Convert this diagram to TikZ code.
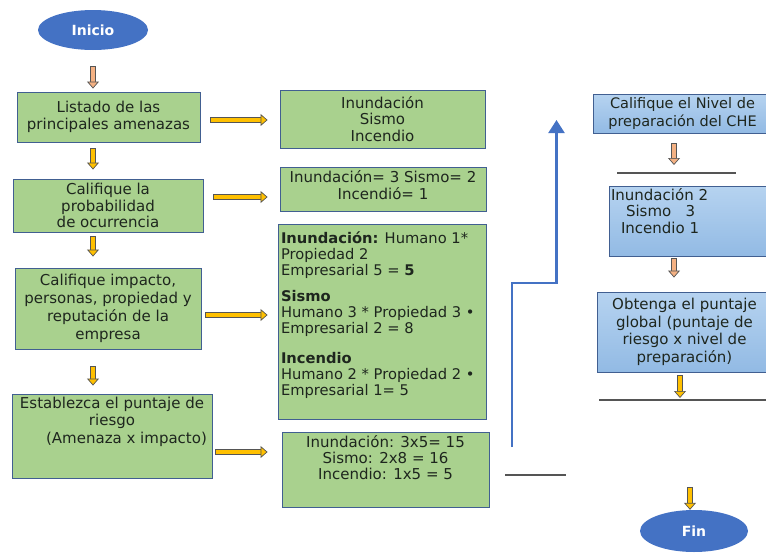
\documentclass[tikz,border=0pt]{standalone}
\usepackage{fontspec}
\setmainfont{DejaVu Sans}
\usetikzlibrary{arrows.meta,calc,shapes.geometric}
\definecolor{gc}{RGB}{169,209,142}
\definecolor{btop}{RGB}{182,211,240}
\definecolor{bbot}{RGB}{146,186,228}
\definecolor{ec}{RGB}{68,114,196}
\definecolor{lc}{RGB}{65,95,145}
\definecolor{ac}{RGB}{255,192,0}
\definecolor{sc}{RGB}{244,177,131}
\definecolor{oc}{RGB}{85,85,85}
\definecolor{tc}{RGB}{30,38,30}
\newcommand{\topbox}[3]{\parbox[c][#1][t]{#2}{#3}}
\tikzset{g/.style={draw=lc,fill=gc,line width=.9pt,inner sep=0pt,align=center,text=tc,font=\fontsize{15}{17.5}\selectfont},
 bl/.style={draw=lc,line width=.9pt,top color=btop,bottom color=bbot,inner sep=0pt,align=center,text=tc,font=\fontsize{15}{17.5}\selectfont},
 oval/.style={ellipse,fill=ec,inner sep=0pt,text=white,font=\fontsize{14}{16}\selectfont\bfseries},
 blk/.style={line width=4pt,draw=#1,shorten <=.7pt,-{Triangle[length=7pt,width=12pt,color=oc,fill=#1,line width=.7pt]},
  preaction={draw=oc,line width=5.4pt,-,shorten <=0pt,shorten >=6pt}},
 bar/.style={line width=2pt,draw=oc},
 upl/.style={line width=2.2pt,draw=ec,-{Triangle[length=13pt,width=16pt]}}}
\begin{document}
\begin{tikzpicture}[x=1pt,y=-1pt]
\useasboundingbox (0,0) rectangle (766,552);
\clip (0,0) rectangle (766,552);
\node[oval,minimum width=110pt,minimum height=40pt] (ini) at (93,30) {Inicio};
\node[g,minimum width=183pt,minimum height=50pt] (b1) at (108.5,117) {Listado de las\\principales amenazas};
\node[g,minimum width=190pt,minimum height=53pt,font=\fontsize{15}{16.5}\selectfont] (b2) at (108,205.5) {Califique la\\probabilidad\\de ocurrencia};
\node[g,minimum width=186pt,minimum height=81pt,font=\fontsize{15}{18}\selectfont] (b3) at (108,308.5) {Califique impacto,\\personas, propiedad y\\reputación de la\\empresa};
\node[g,inner sep=3pt] (b4) at (112,436) {\topbox{78pt}{194pt}{\centering Establezca el puntaje de\\riesgo\\\hspace*{29pt}(Amenaza x impacto)}};
\node[g,minimum width=205pt,minimum height=58pt,font=\fontsize{15}{16.5}\selectfont] (i1) at (382.5,119) {Inundación\\Sismo\\Incendio};
\node[g,inner sep=3pt] (i2) at (383,189) {\topbox{38pt}{200pt}{\centering Inundación= 3 Sismo= 2\\Incendió= 1}};
\node[g,inner sep=3pt,font=\fontsize{14.7}{16}\selectfont] (i3) at (382,321.5) {\topbox{189pt}{202pt}{\raggedright\vspace*{5pt}\textbf{Inundación:} Humano 1*\\Propiedad 2\\Empresarial 5 = \textbf{5}\\[10pt]\textbf{Sismo}\\Humano 3 * Propiedad 3 •\\Empresarial 2 = 8\\[14pt]\textbf{Incendio}\\Humano 2 * Propiedad 2 •\\Empresarial 1= 5}};
\node[g,inner sep=3pt,font=\fontsize{15}{16}\selectfont] (i4) at (385.5,469.5) {\topbox{69pt}{201pt}{\centering Inundación: 3x5= 15\\Sismo: 2x8 = 16\\Incendio: 1x5 = 5}};
\node[bl,minimum width=179pt,minimum height=39pt,font=\fontsize{14.5}{18}\selectfont] (r1) at (682.5,113.5) {Califique el Nivel de\\preparación del CHE};
\node[bl,inner sep=2pt,font=\fontsize{15}{16.5}\selectfont] (r2) at (690.5,221) {\topbox{66pt}{159pt}{\raggedright Inundación 2\\\hspace*{15pt}Sismo\ \ \ 3\\\hspace*{10pt}Incendio 1}};
\node[bl,minimum width=175pt,minimum height=80pt] (r3) at (684.5,332) {Obtenga el puntaje\\global (puntaje de\\riesgo x nivel de\\preparación)};
\node[oval,minimum width=108pt,minimum height=42pt] (fin) at (694,531) {Fin};
\coordinate (k1) at (674,173);\coordinate (k2) at (680,400);\coordinate (k3) at (535,475);
\coordinate (u0) at (512,447);\coordinate (u1) at (556.5,120);
\draw[blk=sc] ($(ini.south)+(0,16)$) -- ($(ini.south |- b1.north)+(0,-3)$);
\draw[blk=ac] ($(ini.south |- b1.south)+(0,6)$) -- ($(ini.south |- b2.north)+(0,-9)$);
\draw[blk=ac] ($(ini.south |- b2.south)+(0,4)$) -- ($(ini.south |- b3.north)+(0,-11)$);
\draw[blk=ac] ($(ini.south |- b3.south)+(0,17)$) -- ($(ini.south |- b4.north)+(0,-8)$);
\draw[blk=ac] ($(b1.east)+(10,3)$) -- ($(i1.west |- b1.east)+(-12,3)$);
\draw[blk=ac] ($(b2.east)+(10,-8.5)$) -- ($(i2.west |- b2.east)+(-12,-8.5)$);
\draw[blk=ac] ($(b3.east)+(4,6.5)$) -- ($(i3.west |- b3.east)+(-10,6.5)$);
\draw[blk=ac] ($(b4.east)+(3,16)$) -- ($(i4.west |- b4.east)+(-14,16)$);
\draw[bar] ($(k3)+(-30,0)$) -- ($(k3)+(31,0)$);
\draw[upl] (u0) -- ++(0,-164) -| (u1);
\draw[blk=sc] ($(k1 |- r1.south)+(0,10)$) -- ($(k1)+(0,-8)$);
\draw[bar] ($(k1)+(-57,0)$) -- ($(k1)+(62,0)$);
\draw[blk=sc] ($(k1 |- r2.south)+(0,2)$) -- ($(k1 |- r3.north)+(0,-14)$);
\draw[blk=ac] ($(k2 |- r3.south)+(0,3)$) -- ($(k2)+(0,-2)$);
\draw[bar] ($(k2)+(-81,0)$) -- ($(k2)+(90,0)$);
\draw[blk=ac] ($(fin.north)+(-4,-23)$) -- ($(fin.north)+(-4,0)$);
\end{tikzpicture}
\end{document}
